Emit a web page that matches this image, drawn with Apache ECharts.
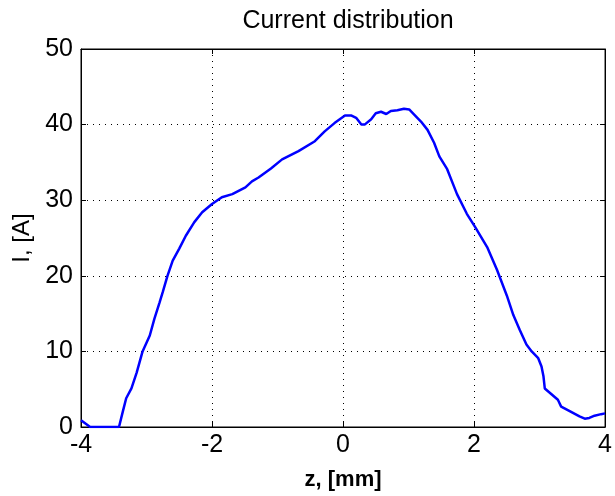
<!DOCTYPE html>
<html>
<head>
<meta charset="utf-8">
<style>
  html, body { margin: 0; padding: 0; background: #fff; }
  #chart { width: 615px; height: 496px; }
</style>
<script src="https://cdn.jsdelivr.net/npm/echarts@6/dist/echarts.min.js"></script>
</head>
<body>
<div id="chart"></div>
<script>
// Axial position z [mm]
const zPos = [
  -4.00, -3.86, -3.42, -3.36, -3.31, -3.23, -3.15, -3.06, -2.95, -2.88,
  -2.80, -2.75, -2.68, -2.60, -2.50, -2.40, -2.27, -2.15, -2.00, -1.85,
  -1.69, -1.49, -1.39, -1.29, -1.10, -0.93, -0.68, -0.43, -0.28, -0.13,
   0.03,  0.13,  0.20,  0.28,  0.33,  0.43,  0.50,  0.58,  0.66,  0.73,
   0.83,  0.93,  1.01,  1.09,  1.19,  1.29,  1.39,  1.47,  1.59,  1.74,
   1.89,  2.02,  2.20,  2.35,  2.50,  2.60,  2.70,  2.80,  2.88,  2.98,
   3.03,  3.06,  3.08,  3.16,  3.28,  3.33,  3.46,  3.61,  3.69,  3.76,
   3.84,  3.94,  4.00
];
// Current I [A]
const current = [
   0.9,  0.0,  0.0,  2.1,  3.8,  5.1,  7.2, 10.0, 12.1, 14.3,
  16.5, 17.9, 20.0, 22.0, 23.6, 25.3, 27.1, 28.4, 29.5, 30.4,
  30.8, 31.7, 32.5, 33.0, 34.2, 35.4, 36.5, 37.8, 39.1, 40.2,
  41.2, 41.2, 40.9, 40.0, 40.0, 40.7, 41.5, 41.7, 41.4, 41.8,
  41.9, 42.1, 42.0, 41.3, 40.4, 39.3, 37.6, 35.8, 34.1, 30.8,
  28.2, 26.4, 23.8, 20.8, 17.4, 14.8, 12.8, 10.9, 10.0,  9.1,
   8.0,  6.7,  5.1,  4.5,  3.6,  2.7,  2.1,  1.4,  1.1,  1.2,
   1.5,  1.7,  1.8
];
const xTicks = [-4, -2, 0, 2, 4];
const yTicks = [0, 10, 20, 30, 40, 50];

const font = 'Liberation Sans, Arial, sans-serif';
const gridDots = { color: '#000', width: 1, type: [1, 5] };
const frameLine = { show: true, onZero: false, lineStyle: { color: '#000', width: 1 } };
const innerTick = { show: true, inside: true, length: 5, lineStyle: { color: '#000' } };

const chart = echarts.init(document.getElementById('chart'), null, { renderer: 'canvas' });

const points = zPos.map((z, i) => [z, current[i]]);

chart.setOption({
  animation: false,
  backgroundColor: '#fff',
  title: {
    text: 'Current distribution',
    left: 343, top: 4, textAlign: 'center',
    textStyle: { fontFamily: font, fontSize: 25, fontWeight: 'normal', color: '#000' }
  },
  grid: {
    left: 81, right: 6, top: 49, bottom: 67,
    show: true, borderColor: '#000', borderWidth: 1, backgroundColor: '#fff'
  },
  xAxis: [{
    type: 'value',
    min: xTicks[0], max: xTicks[xTicks.length - 1], interval: 2,
    name: 'z, [mm]', nameLocation: 'middle', nameGap: 42,
    nameTextStyle: { fontFamily: font, fontSize: 22, fontWeight: 'bold', color: '#000' },
    axisLine: frameLine,
    axisTick: innerTick,
    axisLabel: { fontFamily: font, fontSize: 25, color: '#000', margin: 6 },
    splitLine: { show: true, lineStyle: gridDots }
  }, {
    type: 'value', position: 'top',
    min: xTicks[0], max: xTicks[xTicks.length - 1], interval: 2,
    axisLine: frameLine,
    axisTick: innerTick,
    axisLabel: { show: false },
    splitLine: { show: false }
  }],
  yAxis: [{
    type: 'value',
    min: yTicks[0], max: yTicks[yTicks.length - 1], interval: 10,
    name: 'I, [A]', nameLocation: 'middle', nameGap: 43,
    nameTextStyle: { fontFamily: font, fontSize: 24, color: '#000' },
    axisLine: frameLine,
    axisTick: innerTick,
    axisLabel: { fontFamily: font, fontSize: 25, color: '#000', margin: 8 },
    splitLine: { show: true, lineStyle: gridDots }
  }, {
    type: 'value', position: 'right',
    min: yTicks[0], max: yTicks[yTicks.length - 1], interval: 10,
    axisLine: frameLine,
    axisTick: innerTick,
    axisLabel: { show: false },
    splitLine: { show: false }
  }],
  series: [{
    type: 'line',
    data: points,
    showSymbol: false,
    smooth: false,
    lineStyle: { color: '#0000ff', width: 2.5 },
    itemStyle: { color: '#0000ff' },
    z: 3
  }]
});
</script>
</body>
</html>
